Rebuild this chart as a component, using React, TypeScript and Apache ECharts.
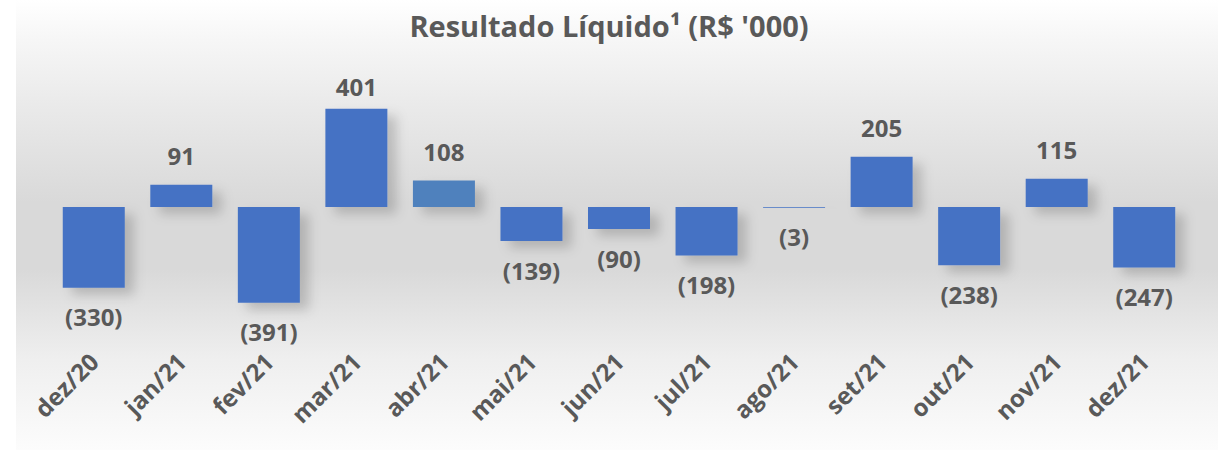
import React, { useEffect, useRef } from "react";
import * as echarts from "echarts";

const titleText = "Resultado Líquido¹ (R$ '000)";
const categories = [
  "dez/20", "jan/21", "fev/21", "mar/21", "abr/21", "mai/21", "jun/21",
  "jul/21", "ago/21", "set/21", "out/21", "nov/21", "dez/21",
];
const values = [-330, 91, -391, 401, 108, -139, -90, -198, -3, 205, -238, 115, -247];
const highlightIndex = 4; // abr/21 drawn in a slightly different blue

const fmt = (v: number) => (v < 0 ? `(${Math.abs(v)})` : `${v}`);

export default function App() {
  const ref = useRef<HTMLDivElement>(null);

  useEffect(() => {
    document.body.style.margin = "0";
    if (!ref.current) return;
    const chart = echarts.init(ref.current, null, { renderer: "svg" });
    const maxIdx = values.indexOf(Math.max(...values));
    const option: any = {
      animation: false,
      title: {
        text: titleText,
        left: "center",
        top: 6,
        textStyle: {
          fontFamily: "Open Sans",
          fontWeight: "bold",
          fontSize: 29,
          color: "#595959",
        },
      },
      graphic: [
        {
          type: "rect",
          z: -100,
          silent: true,
          shape: { x: 16, y: 0, width: 1202, height: 450 },
          style: {
            fill: new echarts.graphic.LinearGradient(0, 0, 0, 1, [
              { offset: 0, color: "#ffffff" },
              { offset: 0.08, color: "#f7f7f7" },
              { offset: 0.22, color: "#ebebeb" },
              { offset: 0.45, color: "#d9d9d9" },
              { offset: 0.6, color: "#d9d9d9" },
              { offset: 0.8, color: "#efefef" },
              { offset: 1, color: "#fcfcfc" },
            ]),
          },
        },
      ],
      grid: { left: 50, right: 30, top: 60, height: 294, containLabel: false },
      xAxis: {
        type: "category",
        data: categories,
        axisLine: { show: false, onZero: false },
        axisTick: { show: false },
        splitLine: { show: false },
        axisLabel: {
          rotate: 45,
          margin: 3,
          interval: 0,
          fontFamily: "Open Sans",
          fontWeight: "bold",
          fontSize: 24,
          color: "#595959",
        },
      },
      yAxis: {
        type: "value",
        min: -600,
        max: 600,
        show: false,
        splitLine: { show: false },
      },
      series: [
        {
          type: "bar",
          barWidth: 62,
          data: values.map((v, i) => ({
            value: v,
            itemStyle: i === highlightIndex ? { color: "#4F81BD" } : undefined,
            label: i === maxIdx ? { distance: 10 } : undefined,
          })),
          itemStyle: {
            color: "#4472C4",
            shadowBlur: 12,
            shadowOffsetX: 9,
            shadowOffsetY: 7,
            shadowColor: "rgba(0,0,0,0.18)",
          },
          label: {
            show: true,
            position: "outside",
            distance: 17,
            formatter: (p: any) => fmt(p.value),
            fontFamily: "Open Sans",
            fontWeight: "bold",
            fontSize: 24,
            color: "#595959",
          },
        },
      ],
    };
    chart.setOption(option);
    return () => chart.dispose();
  }, []);

  return <div ref={ref} style={{ width: 1218, height: 450 }} />;
}
